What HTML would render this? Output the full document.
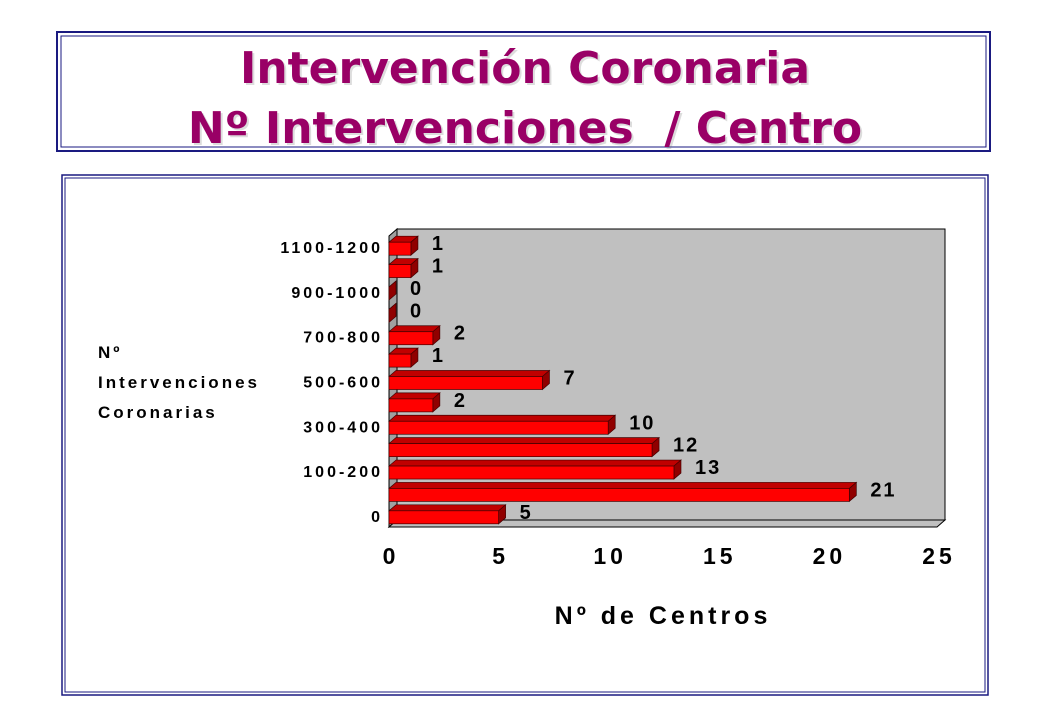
<!DOCTYPE html>
<html><head><meta charset="utf-8"><style>
html,body{margin:0;padding:0;background:#fff;width:1040px;height:720px;overflow:hidden}
svg{display:block}
.t{font-family:"Comic Sans MS","DejaVu Sans","Liberation Sans",sans-serif;fill:#990066;font-size:44px;font-weight:bold;text-anchor:middle}
.lab{font-family:"Liberation Sans",sans-serif;font-weight:bold;fill:#000}
</style></head><body>
<svg id="c" width="1040" height="720" xmlns="http://www.w3.org/2000/svg">
<g>
<rect x="57" y="32" width="933" height="119" fill="#fff" stroke="#1a1a80" stroke-width="2"/>
<rect x="61" y="36" width="925" height="111" fill="none" stroke="#1a1a80" stroke-width="1"/>
<text class="t" x="525" y="83" fill-opacity="0.25" style="fill:#777" dx="2" dy="2">Intervención Coronaria</text>
<text class="t" x="525" y="83">Intervención Coronaria</text>
<text class="t" x="525" y="143" style="fill:#777;opacity:0.25" dx="2" dy="2" xml:space="preserve">Nº Intervenciones  / Centro</text>
<text class="t" x="525" y="143" xml:space="preserve">Nº Intervenciones  / Centro</text>
</g>
<g>
<rect x="62" y="175" width="926" height="520" fill="#fff" stroke="#1a1a80" stroke-width="1.5"/>
<rect x="65" y="178" width="920" height="514" fill="none" stroke="#1a1a80" stroke-width="1"/>
</g>
<g id="plot"></g>
<g>
<text class="lab" x="98" y="358" font-size="17" letter-spacing="3">Nº</text>
<text class="lab" x="98" y="388" font-size="17" letter-spacing="3">Intervenciones</text>
<text class="lab" x="98" y="418" font-size="17" letter-spacing="3">Coronarias</text>
</g>
<text class="lab" x="663" y="624" font-size="25" letter-spacing="4" text-anchor="middle">Nº de Centros</text>
</svg>
<script>
const categories=["0","1-100","100-200","200-300","300-400","400-500","500-600","600-700","700-800","800-900","900-1000","1000-1100","1100-1200"];
const values=[5,21,13,12,10,2,7,1,2,0,0,1,1];
const xTicks=[0,5,10,15,20,25];
const xMin=0,xMax=25;
const NS="http://www.w3.org/2000/svg";
const plot=document.getElementById("plot");
const X0=389,X1=937,Ytop=236,Ybot=527,DX=8,DY=7;
function x(v){return X0+(v-xMin)/(xMax-xMin)*(X1-X0);}
const n=categories.length;
const step=(Ybot-Ytop)/n;
function yc(i){return Ybot-step*(i+0.5);}
function mk(t,a){const e=document.createElementNS(NS,t);for(const k in a)e.setAttribute(k,a[k]);plot.appendChild(e);return e;}
let w=mk("rect",{x:X0+DX,y:Ytop-DY,width:X1-X0,height:Ybot-Ytop,fill:"#c0c0c0",stroke:"#000","stroke-width":1});


let lw=mk("polygon",{points:`${X0},${Ytop} ${X0+DX},${Ytop-DY} ${X0+DX},${Ybot-DY} ${X0},${Ybot}`,fill:"#a0a0a0",stroke:"#000","stroke-width":1});


let fl=mk("polygon",{points:`${X0},${Ybot} ${X0+DX},${Ybot-DY} ${X1+DX},${Ybot-DY} ${X1},${Ybot}`,fill:"#c0c0c0",stroke:"#000","stroke-width":1});


xTicks.forEach(t=>{
  const e=mk("text",{x:x(t)+2,y:564,"font-size":23,"text-anchor":"middle","letter-spacing":"4",class:"lab"});
  e.textContent=String(t);
  
  
});
categories.forEach((c,i)=>{
  if(i%2===0){
    const e=mk("text",{x:383,y:yc(i)+6,"font-size":16,"text-anchor":"end","letter-spacing":"3",class:"lab"});
    e.textContent=c;
    
    
  }
  const v=values[i];
  const cy=yc(i),h=13,top=cy-5,xe=x(v),d=7,dv=6;
  const g=mk("g",{});
  
  
  const tp=document.createElementNS(NS,"polygon");
  tp.setAttribute("points",`${X0},${top} ${X0+d},${top-dv} ${xe+d},${top-dv} ${xe},${top}`);
  tp.setAttribute("fill","#c00000");tp.setAttribute("stroke","#400");tp.setAttribute("stroke-width","0.7");
  g.appendChild(tp);
  const sd=document.createElementNS(NS,"polygon");
  sd.setAttribute("points",`${xe},${top} ${xe+d},${top-dv} ${xe+d},${top+h-dv} ${xe},${top+h}`);
  sd.setAttribute("fill","#900000");sd.setAttribute("stroke","#400");sd.setAttribute("stroke-width","0.7");
  g.appendChild(sd);
  if(v>0){
    const fr=document.createElementNS(NS,"rect");
    fr.setAttribute("x",X0);fr.setAttribute("y",top);fr.setAttribute("width",xe-X0);fr.setAttribute("height",h);
    fr.setAttribute("fill","#ff0000");fr.setAttribute("stroke","#400");fr.setAttribute("stroke-width","0.7");
    g.appendChild(fr);
  }
  const vl=mk("text",{x:xe+21,y:cy+3,"font-size":20,"letter-spacing":"2",class:"lab"});
  vl.textContent=v;
  
  
});
</script>
</body></html>
